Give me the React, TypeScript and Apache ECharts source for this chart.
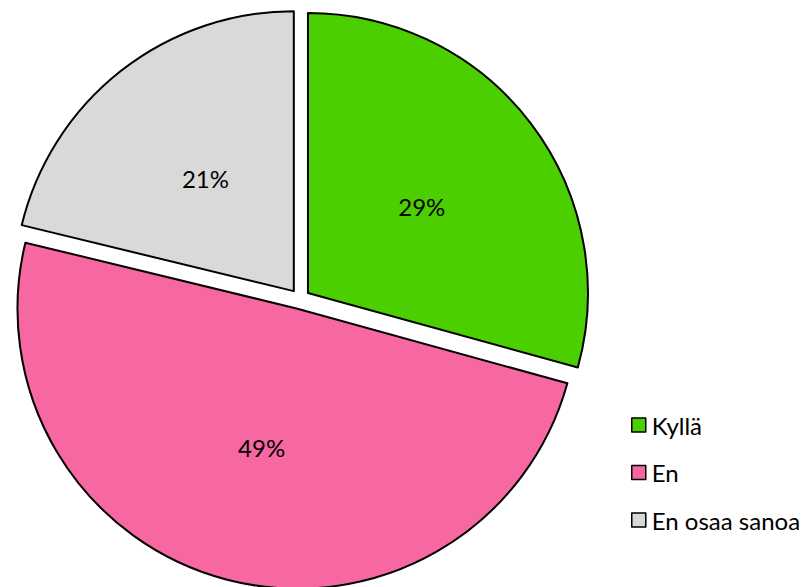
import React, { useEffect, useRef } from "react";
import * as echarts from "echarts";

const categories = ["Kyllä", "En", "En osaa sanoa"];
const values = [29, 49, 21];
const colors = ["#4CCF00", "#F767A1", "#D9D9D9"];

export default function App() {
  const ref = useRef<HTMLDivElement>(null);
  useEffect(() => {
    if (!ref.current) return;
    const chart = echarts.init(ref.current, null, { renderer: "svg" });
    const font = "Lato, 'Open Sans', sans-serif";
    chart.setOption({
      animation: false,
      backgroundColor: "#ffffff",
      legend: {
        orient: "vertical",
        left: 626,
        top: 407,
        itemWidth: 14,
        itemHeight: 14,
        itemGap: 21.5,
        icon: "rect",
        itemStyle: { borderColor: "#000", borderWidth: 1.5 },
        textStyle: { fontFamily: font, fontSize: 24, color: "#000", lineHeight: 26, padding: [0, 0, 0, 1] },
        data: categories,
        selectedMode: false,
      },
      series: [
        {
          type: "pie",
          center: [300, 299],
          radius: 280,
          startAngle: 90,
          clockwise: true,
          selectedMode: "multiple",
          selectedOffset: 10,
          emphasis: { disabled: true },
          itemStyle: { borderColor: "#000", borderWidth: 2 },
          label: {
            position: "inside",
            formatter: "{c}%",
            fontFamily: font,
            fontSize: 24,
            color: "#000",
          },
          labelLine: { show: false },
          data: categories.map((name, i) => ({
            name,
            value: values[i],
            selected: true,
            itemStyle: { color: colors[i] },
          })),
        },
      ],
    });
    return () => chart.dispose();
  }, []);
  return (
    <div
      ref={ref}
      style={{ position: "fixed", left: 0, top: 0, width: 804, height: 587 }}
    />
  );
}
